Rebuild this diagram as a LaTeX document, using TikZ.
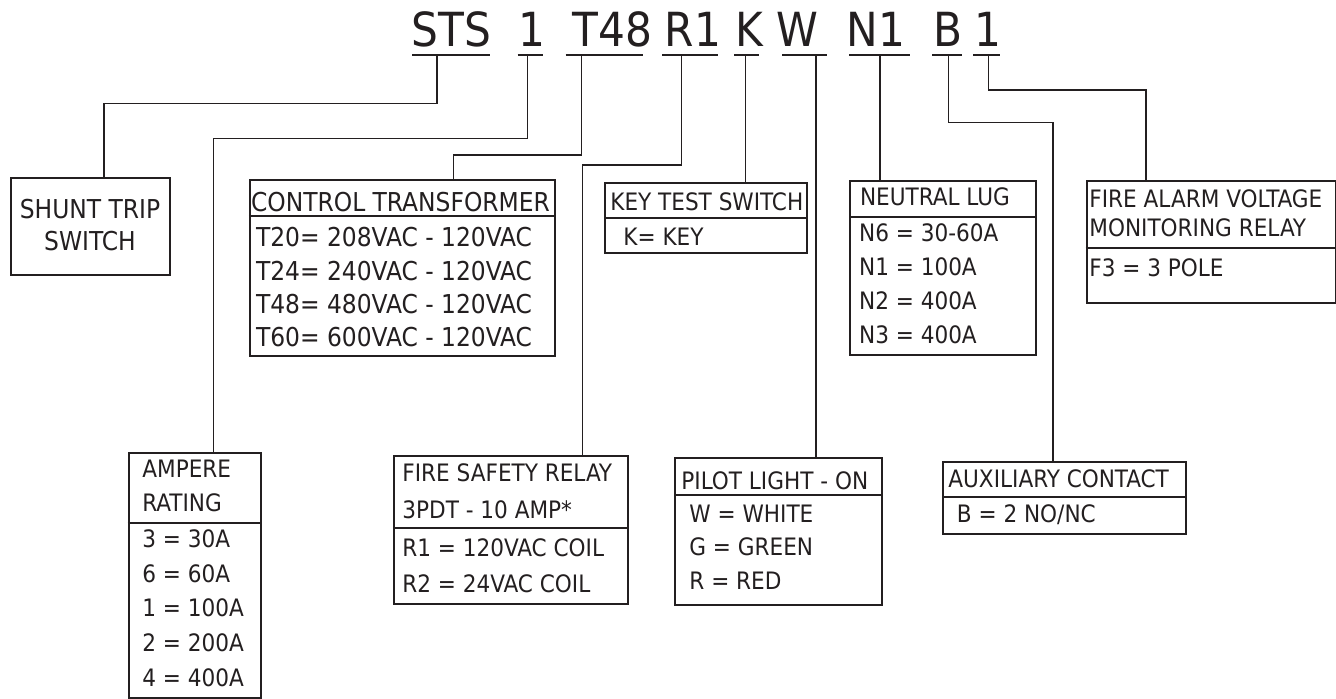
\documentclass[tikz,border=0pt]{standalone}
\usepackage{fontspec}
\setmainfont{DejaVu Sans Condensed}
\definecolor{ink}{RGB}{35,31,32}

\begin{document}
\begin{tikzpicture}[x=0.5pt,y=-0.5pt]
    % Style definitions
    \tikzset{
      optframe/.style={draw=ink, line width=1pt},
      wire/.style={draw=ink, line width=0.7pt},
      uline/.style={draw=ink, line width=1pt},
      code/.style={font=\fontsize{23.5}{28}\selectfont, text=ink, inner sep=0pt, anchor=base},
      txt/.style={font=\fontsize{12}{14}\selectfont, text=ink, inner sep=0pt, anchor=base west},
      bigtxt/.style={txt, font=\fontsize{13}{15}\selectfont},
    }
    % ------------------------------------------------------------------
    % Helper macro: one option box named #1 with its top-left corner at
    % (#2,#3) and its bottom-right corner at (#4,#5), in pixels.
    % ------------------------------------------------------------------
    \newcommand{\optbox}[5]{%
      \node[optframe, anchor=north west, inner sep=0pt,
            minimum width={(#4-#2)*0.5pt}, minimum height={(#5-#3)*0.5pt}]
            (#1) at (#2,#3) {};%
    }
    \useasboundingbox (0,0) rectangle (1336,698);

    % Part number along the top
    \node[code] (c-sts) at (451.3,46.5) {STS};
    \node[code] (c-amp) at (531.7,46.5) {1};
    \node[code] (c-t48) at (612.3,46.5) {T48};
    \node[code] (c-r1)  at (693,46.5)   {R1};
    \node[code] (c-k)   at (749,46.5)   {K};
    \node[code] (c-w)   at (797.3,46.5) {W};
    \node[code] (c-n1)  at (875.8,46.5) {N1};
    \node[code] (c-b)   at (948.3,46.5) {B};
    \node[code] (c-f)   at (987.5,46.5) {1};
    \draw[uline] (412,55) -- (490,55);
    \draw[uline] (517.7,55) -- (542.7,55);
    \draw[uline] (565.7,55) -- (643.3,55);
    \draw[uline] (662.3,55) -- (718.3,55);
    \draw[uline] (734,55) -- (759.3,55);
    \draw[uline] (782.3,55) -- (826.7,55);
    \draw[uline] (849.3,55) -- (910,55);
    \draw[uline] (932.3,55) -- (962.3,55);
    \draw[uline] (973.3,55) -- (1000,55);

    % Drop points under the part number
    \coordinate (d-sts) at (437,55);
    \coordinate (d-amp) at (527.7,55);
    \coordinate (d-t48) at (581.5,55);
    \coordinate (d-r1)  at (681.7,55);
    \coordinate (d-k)   at (745.4,55);
    \coordinate (d-w)   at (816,55);
    \coordinate (d-n1)  at (880,55);
    \coordinate (d-b)   at (948.5,55);
    \coordinate (d-f)   at (988.7,55);

    % Option boxes
    \optbox{shunt}{10}{177.3}{169}{274}
    \optbox{ct}{248.8}{179.3}{553.8}{355}
    \optbox{key}{604}{181.7}{805.6}{252}
    \optbox{neu}{849}{180}{1034.7}{354}
    \optbox{fav}{1085.7}{180}{1335}{301.7}
    \optbox{amp}{127.5}{451.7}{260}{696.7}
    \optbox{fsr}{393.3}{455}{626.8}{602.7}
    \optbox{pil}{674.4}{456.7}{881}{604.3}
    \optbox{aux}{942.3}{460.7}{1185.3}{532.7}

    % Header dividers
    \draw[optframe] (ct.west |- 0,215.7) -- (ct.east |- 0,215.7);
    \draw[optframe] (key.west |- 0,218) -- (key.east |- 0,218);
    \draw[optframe] (neu.west |- 0,216.7) -- (neu.east |- 0,216.7);
    \draw[optframe] (fav.west |- 0,247.7) -- (fav.east |- 0,247.7);
    \draw[optframe] (amp.west |- 0,522.7) -- (amp.east |- 0,522.7);
    \draw[optframe] (fsr.west |- 0,528.3) -- (fsr.east |- 0,528.3);
    \draw[optframe] (pil.west |- 0,495) -- (pil.east |- 0,495);
    \draw[optframe] (aux.west |- 0,496.7) -- (aux.east |- 0,496.7);

    % Box texts
    \node[bigtxt, anchor=base] (shunt-l1) at (90,218) {SHUNT TRIP};
    \node[bigtxt, anchor=base] (shunt-l2) at (90,250) {SWITCH};

    \node[bigtxt] (ct-h) at (250.7,211) {CONTROL TRANSFORMER};
    \foreach \t [count=\i] in {T20= 208VAC - 120VAC, T24= 240VAC - 120VAC,
                               T48= 480VAC - 120VAC, T60= 600VAC - 120VAC}
      \node[bigtxt] (ct-r\i) at (255.6,{246.7+33.3*(\i-1)}) {\t};

    \node[txt] (key-h) at (610,210) {KEY TEST SWITCH};
    \node[txt] (key-r1) at (623,245.7) {K= KEY};

    \node[txt] (neu-h) at (859.6,205) {NEUTRAL LUG};
    \foreach \t [count=\i] in {N6 = 30-60A, N1 = 100A, N2 = 400A, N3 = 400A}
      \node[txt] (neu-r\i) at (858.7,{241.7+33.8*(\i-1)}) {\t};

    \node[txt] (fav-h1) at (1089,207.7) {FIRE ALARM VOLTAGE};
    \node[txt] (fav-h2) at (1089,236) {MONITORING RELAY};
    \node[txt] (fav-r1) at (1089,276) {F3 = 3 POLE};

    \node[txt] (amp-h1) at (142,477.7) {AMPERE};
    \node[txt] (amp-h2) at (142,511.7) {RATING};
    \foreach \t [count=\i] in {3 = 30A, 6 = 60A, 1 = 100A, 2 = 200A, 4 = 400A}
      \node[txt] (amp-r\i) at (142,{547.7+34.6*(\i-1)}) {\t};

    \node[txt] (fsr-h1) at (402,481) {FIRE SAFETY RELAY};
    \node[txt] (fsr-h2) at (402,518.3) {3PDT - 10 AMP*};
    \node[txt] (fsr-r1) at (402,556) {R1 = 120VAC COIL};
    \node[txt] (fsr-r2) at (402,592.7) {R2 = 24VAC COIL};

    \node[txt] (pil-h) at (681,489.3) {PILOT LIGHT - ON};
    \foreach \t [count=\i] in {W = WHITE, G = GREEN, R = RED}
      \node[txt] (pil-r\i) at (689,{522.3+33.5*(\i-1)}) {\t};

    \node[txt] (aux-h) at (948,487.3) {AUXILIARY CONTACT};
    \node[txt] (aux-r1) at (956.5,522.3) {B = 2 NO/NC};

    % Connectors from the part number down to the boxes
    \draw[wire] (d-sts) -- (d-sts |- 0,103.3) -| (shunt.north -| 104,0);
    \draw[wire] (d-amp) -- (d-amp |- 0,138.3) -| (amp.north -| 213.5,0);
    \draw[wire] (d-t48) -- (d-t48 |- 0,155) -| (ct.north -| 453.5,0);
    \draw[wire] (d-r1) -- (d-r1 |- 0,165) -| (fsr.north -| 582.5,0);
    \draw[wire] (d-k) -- (d-k |- key.north);
    \draw[wire] (d-w) -- (d-w |- pil.north);
    \draw[wire] (d-n1) -- (d-n1 |- neu.north);
    \draw[wire] (d-b) -- (d-b |- 0,122.7) -| (aux.north -| 1053,0);
    \draw[wire] (d-f) -- (d-f |- 0,90) -| (fav.north -| 1146,0);
\end{tikzpicture}
\end{document}
